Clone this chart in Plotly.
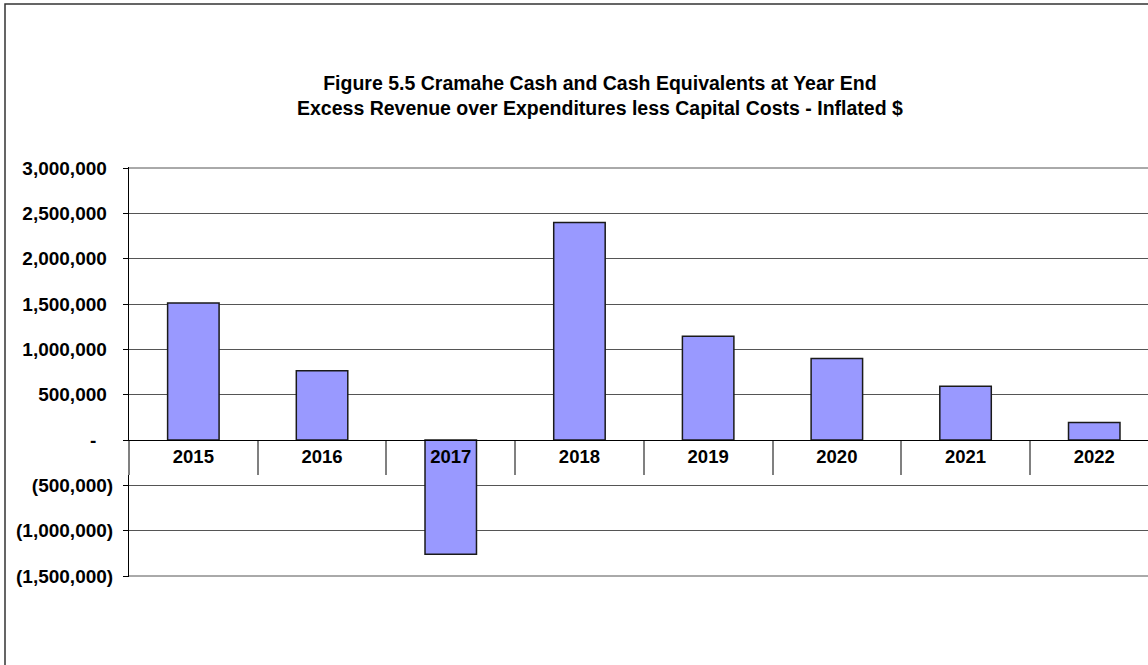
import plotly.graph_objects as go

years = ["2015", "2016", "2017", "2018", "2019", "2020", "2021", "2022"]
values = [1510000, 765000, -1260000, 2400000, 1143000, 898000, 592000, 192000]
y_tickvals = [3000000, 2500000, 2000000, 1500000, 1000000, 500000, 0, -500000, -1000000, -1500000]
y_ticktext = ["3,000,000", "2,500,000", "2,000,000", "1,500,000", "1,000,000", "500,000", "-",
              "(500,000)", "(1,000,000)", "(1,500,000)"]
title_lines = ["Figure 5.5 Cramahe Cash and Cash Equivalents at Year End",
               "Excess Revenue over Expenditures less Capital Costs - Inflated $"]

W, H = 1148, 665
L, T, B, R = 129, 167, 88, 0
pw, ph = W - L - R, H - T - B
cat_w = 128.7
xmax = -0.5 + pw / cat_w
unit_px = 408 / 4500000.0
pad_v = 1 / unit_px
ymin, ymax = -1500000 - pad_v, 3000000 + pad_v
zero_pos = (0 - ymin) / (ymax - ymin)

FAM = "Arial, Liberation Sans, sans-serif"


def bold(size):
    return dict(family=FAM, color="black", size=size, weight="bold")


# accounting-style alignment: non-negative labels keep room for a closing parenthesis
HIDE = "<span style='color:rgba(0,0,0,0)'>{}</span>"
y_labels = []
for txt in y_ticktext:
    if txt.startswith("("):
        y_labels.append(txt)
    elif txt == "-":
        y_labels.append(txt + HIDE.format("0)"))
    else:
        y_labels.append(txt + HIDE.format(")"))

fig = go.Figure()
fig.add_trace(go.Bar(x=years, y=values, width=0.4,
                     marker=dict(color="#9999FF", line=dict(color="#1a1a1a", width=1.5)),
                     hoverinfo="skip", showlegend=False))
fig.add_trace(go.Scatter(x=years, y=values, xaxis="x2", mode="markers",
                         marker=dict(opacity=0), hoverinfo="skip", showlegend=False))

fig.update_layout(
    width=W, height=H,
    margin=dict(l=L, r=R, t=T, b=B, pad=0),
    paper_bgcolor="white", plot_bgcolor="white",
    xaxis=dict(type="category", range=[-0.5, xmax], anchor="free", position=zero_pos,
               showline=True, linecolor="black", linewidth=1, ticks="", showgrid=False,
               zeroline=False, tickfont=bold(18.5), fixedrange=True),
    xaxis2=dict(type="category", overlaying="x", range=[-0.5, xmax], anchor="free",
                position=zero_pos, tickson="boundaries", ticks="outside", ticklen=34,
                tickcolor="#808080", tickwidth=1.5, showticklabels=False, showgrid=False,
                showline=False, zeroline=False),
    yaxis=dict(range=[ymin, ymax], tickvals=y_tickvals, ticktext=y_labels,
               showgrid=True, gridcolor="#555555", gridwidth=1,
               zeroline=True, zerolinecolor="black", zerolinewidth=1,
               showline=True, linecolor="black", linewidth=1,
               ticks="outside", ticklen=5, tickcolor="black",
               ticklabelstandoff=6, tickfont=bold(19)),
    font=dict(family=FAM, color="black"),
)

# gridlines at the extreme tick values (plotly omits grid lines at the axis edges)
for yv in (y_tickvals[0], y_tickvals[-1]):
    fig.add_shape(type="line", xref="paper", yref="y", x0=0, x1=1, y0=yv, y1=yv,
                  line=dict(color="#555555", width=1), layer="below")

title_x = (600 - L) / pw
fig.add_annotation(xref="paper", yref="paper", x=title_x, y=(H - B - 95) / ph,
                   text="<br>".join(title_lines), showarrow=False, font=bold(19.5),
                   align="center", xanchor="center", yanchor="middle")

fig.add_shape(type="rect", xref="paper", yref="paper",
              x0=(5 - L) / pw, x1=1.2, y0=-0.5, y1=(H - B - 4) / ph,
              line=dict(color="#333333", width=1.5), fillcolor="rgba(0,0,0,0)", layer="below")

fig.write_html("out.html", config={"displayModeBar": False})
